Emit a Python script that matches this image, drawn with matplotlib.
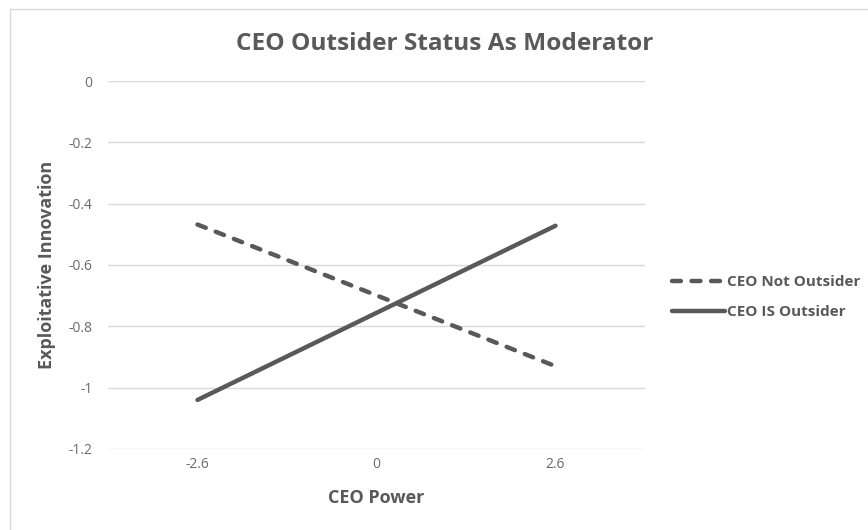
import numpy as np
import matplotlib.pyplot as plt
from matplotlib.patches import Rectangle

# data
categories = ['-2.6', '0', '2.6']
not_outsider = [-0.468, -0.699, -0.930]
is_outsider = [-1.040, -0.756, -0.472]
y_ticks = [0, -0.2, -0.4, -0.6, -0.8, -1.0, -1.2]
y_tick_labels = ['0', '-0.2', '-0.4', '-0.6', '-0.8', '-1', '-1.2']

GRAY = '#595959'
GRID = '#d9d9d9'
FONT = ['Open Sans', 'DejaVu Sans']

plt.rcParams['font.family'] = FONT

fig = plt.figure(figsize=(8.68, 5.30), dpi=100)
fig.patches.append(Rectangle((10 / 868, -0.1), 1.2, 1 - 9 / 530 + 0.1,
                             transform=fig.transFigure, fill=False,
                             edgecolor='#d9d9d9', linewidth=1.0))

ax = fig.add_axes([108 / 868, 1 - 449 / 530, 537 / 868, 368 / 530])
x = np.arange(len(categories))

ax.plot(x, not_outsider, color=GRAY, lw=3.2, dashes=(2.0, 2.4),
        dash_capstyle='round', solid_capstyle='round',
        label='CEO Not Outsider')
ax.plot(x, is_outsider, color=GRAY, lw=3.2, solid_capstyle='round',
        label='CEO IS Outsider')

ax.set_xlim(-0.5, len(categories) - 0.5)
ax.set_ylim(-1.2, 0)
ax.set_yticks(y_ticks)
ax.set_yticklabels(y_tick_labels)
ax.set_xticks(x)
ax.set_xticklabels(categories)
ax.tick_params(length=0, colors='#6a6a6a', labelsize=10)
ax.tick_params(axis='y', pad=11)
ax.tick_params(axis='x', pad=6)
ax.grid(axis='y', color=GRID, lw=1.0)
ax.set_axisbelow(True)
for s in ax.spines.values():
    s.set_visible(False)

fig.text(445 / 868, 1 - 50 / 530, 'CEO Outsider Status As Moderator',
         color=GRAY, fontsize=17.6, fontweight='bold', ha='center',
         va='baseline')
ax.set_xlabel('CEO Power', color=GRAY, fontsize=13, fontweight='bold',
              labelpad=12)
ax.set_ylabel('Exploitative Innovation', color=GRAY, fontsize=13,
              fontweight='bold', labelpad=9)

leg = ax.legend(loc='center left', bbox_to_anchor=(1.05, 0.412), frameon=False,
                borderpad=0, borderaxespad=0, handlelength=3.5,
                handletextpad=0.12, labelspacing=1.05,
                prop={'weight': 'bold', 'size': 11})
for t in leg.get_texts():
    t.set_color(GRAY)

fig.savefig('out.png', dpi=100)
